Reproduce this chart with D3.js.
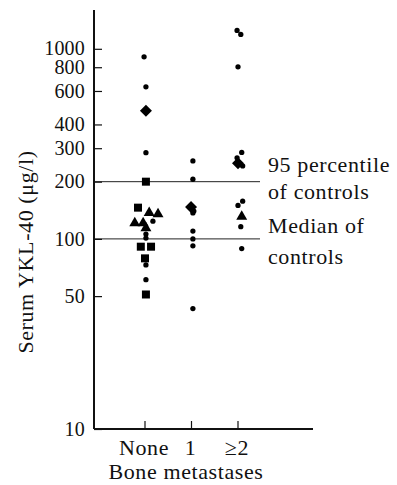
<!DOCTYPE html>
<html>
<head>
<meta charset="utf-8">
<script src="https://cdn.jsdelivr.net/npm/d3@7"></script>
<style>
  body { margin: 0; background: #fff; }
  text { font-family: "Liberation Serif", "DejaVu Serif", serif; fill: #111; }
</style>
</head>
<body>
<div class="chart"></div>
<script>
var outerW = 397,
	outerH = 485;

// Data: groups, y ticks and control lines
var groups = ["None", "1", "\u22652"];
var yTicks = [10, 50, 100, 200, 300, 400, 600, 800, 1000];
var controlLines = [100, 200];

// Points: pos is the group index plus a little horizontal spread
var pointPos = [
	-0.02, 0.02, 0.02, 0.02, 0.02, -0.15, 0.09, 0.28, -0.22, -0.04, 0.17, 0.02, 0.02, 0.02, -0.09, 0.13, 0, 0.02, 0.02, 0.02,
	1.03, 1.03, 0.99, 1.05, 1.03, 1.03, 1.03, 1.03, 1.03,
	1.98, 2.06, 2.0, 2.08, 1.98, 2.0, 2.1, 2.1, 2.0, 2.08, 2.06, 2.08
];
var pointValue = [
	907, 631, 472, 284, 200, 146, 137, 135, 121, 121, 124, 114, 106, 101, 91, 91, 79, 73, 61, 51,
	257, 206, 147, 140, 137, 110, 100, 92, 43,
	1250, 1190, 804, 285, 267, 250, 242, 158, 150, 131, 116, 89
];
var pointShape = [
	"dot", "dot", "diamond", "dot", "square", "square", "triangle", "triangle", "triangle", "triangle", "dot", "triangle", "dot", "dot", "square", "square", "square", "dot", "dot", "square",
	"dot", "dot", "diamond", "dot", "dot", "dot", "dot", "dot", "dot",
	"dot", "dot", "dot", "dot", "dot", "diamond", "dot", "dot", "dot", "triangle", "dot", "dot"
];

var svg = d3.select(".chart")
	.append("svg")
	.attr("width", outerW)
	.attr("height", outerH);

var axisX = 94,
	axisY = 429;

var y = d3.scaleLog()
	.domain([10, 1600])
	.range([axisY, 10]);

var x = d3.scaleLinear()
	.domain([0, 2])
	.range([145, 238]);

// Control lines (median and 95 percentile)
svg.selectAll(".ctrl")
	.data(controlLines)
	.enter()
	.append("line")
	.attr("class", "ctrl")
	.attr("x1", axisX)
	.attr("x2", 260)
	.attr("y1", d => y(d))
	.attr("y2", d => y(d))
	.attr("stroke", "#222")
	.attr("stroke-width", 1);

// Y axis: ticks pointing inward
var yAxis = d3.axisRight(y)
	.tickValues(yTicks)
	.tickSize(8)
	.tickFormat("");

svg.append("g")
	.attr("transform", "translate(" + axisX + ",0)")
	.call(yAxis)
	.call(g => g.select(".domain").remove())
	.call(g => g.selectAll(".tick line").attr("stroke", "#111").attr("stroke-width", 1.2));

svg.append("line")
	.attr("x1", axisX)
	.attr("x2", axisX)
	.attr("y1", y(1600))
	.attr("y2", axisY)
	.attr("stroke", "#111")
	.attr("stroke-width", 2);

svg.selectAll(".ylab")
	.data(yTicks)
	.enter()
	.append("text")
	.attr("class", "ylab")
	.attr("x", axisX - 9)
	.attr("y", d => y(d))
	.attr("dy", "0.33em")
	.attr("text-anchor", "end")
	.attr("font-size", 20)
	.attr("letter-spacing", 0.2)
	.text(d => d);

// X axis with upward ticks
svg.append("line")
	.attr("x1", axisX)
	.attr("x2", 313)
	.attr("y1", axisY)
	.attr("y2", axisY)
	.attr("stroke", "#111")
	.attr("stroke-width", 2);

svg.selectAll(".xtick")
	.data(groups)
	.enter()
	.append("line")
	.attr("class", "xtick")
	.attr("x1", (d, i) => x(i))
	.attr("x2", (d, i) => x(i))
	.attr("y1", axisY)
	.attr("y2", axisY - 8)
	.attr("stroke", "#111")
	.attr("stroke-width", 1.2);

svg.selectAll(".xlab")
	.data(groups)
	.enter()
	.append("text")
	.attr("class", "xlab")
	.attr("x", (d, i) => x(i) - 1)
	.attr("y", 455)
	.attr("text-anchor", "middle")
	.attr("font-size", 22)
	.attr("letter-spacing", 0.6)
	.text(d => d);

svg.append("text")
	.attr("x", 186)
	.attr("y", 479)
	.attr("text-anchor", "middle")
	.attr("font-size", 22)
	.attr("letter-spacing", 0.6)
	.text("Bone metastases");

svg.append("text")
	.attr("transform", "translate(33,252) rotate(-90)")
	.attr("text-anchor", "middle")
	.attr("font-size", 22)
	.attr("letter-spacing", 0.6)
	.text("Serum YKL-40 (\u03bcg/l)");

// Control line notes
var notes = [
	["95 percentile", 172],
	["of controls", 199],
	["Median of", 233],
	["controls", 264]
];
svg.selectAll(".note")
	.data(notes)
	.enter()
	.append("text")
	.attr("class", "note")
	.attr("x", 268)
	.attr("y", d => d[1])
	.attr("font-size", 22)
	.attr("letter-spacing", 0.6)
	.text(d => d[0]);

// Points
var sym = {
	dot: d3.symbol().type(d3.symbolCircle).size(22),
	square: d3.symbol().type(d3.symbolSquare).size(64),
	diamond: d3.symbol().type(d3.symbolSquare).size(72),
	triangle: d3.symbol().type(d3.symbolTriangle).size(52)
};

svg.selectAll(".pt")
	.data(pointValue)
	.enter()
	.append("path")
	.attr("class", "pt")
	.attr("d", (d, i) => sym[pointShape[i]]())
	.attr("transform", function(d, i) {
		var t = "translate(" + x(pointPos[i]) + "," + y(d) + ")";
		if (pointShape[i] === "diamond") t += " rotate(45)";
		return t;
	})
	.attr("fill", "#000");
</script>
</body>
</html>
